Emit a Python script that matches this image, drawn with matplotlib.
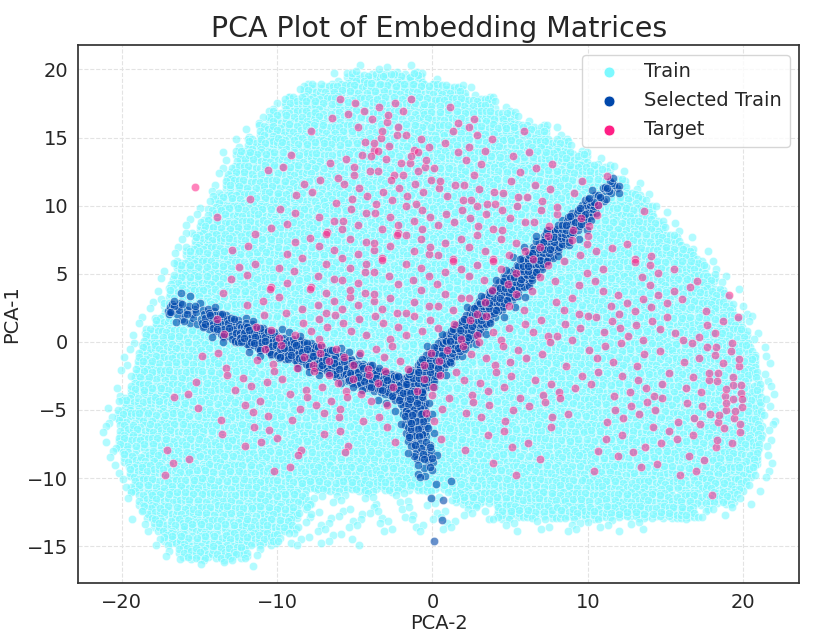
import numpy as np
import matplotlib
matplotlib.use("Agg")
import matplotlib.pyplot as plt
import seaborn as sns

# ---- data ----
# train cloud: one band per unit of PCA-1 (row centre, left edge, right edge)
train_y = [19.3, 18.5, 17.5, 16.5, 15.5, 14.5, 13.5, 12.5, 11.5, 10.5, 9.5, 8.5,
           7.5, 6.5, 5.5, 4.5, 3.5, 2.5, 1.5, 0.5, -0.5, -1.5, -2.5, -3.5, -4.5,
           -5.5, -6.5, -7.5, -8.5, -9.5, -10.5, -11.5, -11.5, -12.5, -12.5,
           -13.5, -14.5, -15.5]
train_x0 = [-5.5, -8.4, -9.6, -10.6, -11.3, -12.1, -12.8, -13.2, -13.5, -14.0, -14.6, -15.1,
            -15.5, -16.0, -16.6, -16.7, -17.1, -17.4, -18.0, -18.5, -18.9, -19.1, -19.3, -19.6, -20.0,
            -20.3, -20.3, -20.2, -20.0, -19.7, -19.4, -19.1, 1.5, -18.6, 4.0,
            -18.0, -17.3, -16.3]
train_x1 = [-0.5, 2.2, 4.0, 5.4, 7.4, 8.8, 10.0, 11.5, 12.5, 13.6, 14.3, 15.0,
            15.9, 16.9, 17.6, 18.3, 18.9, 19.4, 19.9, 20.3, 20.6, 20.9, 21.0, 21.1, 21.2,
            21.2, 21.2, 21.2, 21.0, 20.8, 20.2, -8.0, 19.6, -8.5, 17.0,
            -9.0, -10.0, -11.8]
# thin patches of train points outside the solid area
sparse_y = [19.9, -11.5, -12.5, -12.5, -13.5, -13.5, -14.5, -16.0]
sparse_x0 = [-5.0, -8.0, -8.5, 17.0, -9.0, 4.0, -10.0, -15.0]
sparse_x1 = [-1.0, 1.5, 4.0, 19.5, 2.0, 14.0, -4.5, -11.5]

# selected train: three arms (centre line, half width, points per unit^2)
left_arm_x = [-17.0, -15.0, -12.3, -9.8, -7.2, -5.3, -3.3, -1.4]
left_arm_y = [2.6, 1.9, 0.7, -0.3, -1.2, -2.1, -2.9, -3.6]
left_arm_w = [0.5, 0.75, 0.8, 0.85, 0.85, 0.85, 0.85, 0.85]
left_arm_d = [3, 9, 16, 17, 17, 17, 17, 17]
right_arm_x = [-1.4, 1.2, 3.5, 5.8, 8.2, 10.3, 11.9]
right_arm_y = [-3.4, -0.3, 2.4, 5.0, 7.9, 10.0, 12.0]
right_arm_w = [0.85, 0.8, 0.8, 0.8, 0.75, 0.55, 0.35]
right_arm_d = [17, 17, 17, 17, 16, 10, 3]
low_arm_x = [-1.4, -1.2, -0.9, -0.5, -0.2]
low_arm_y = [-3.6, -5.2, -7.2, -8.6, -9.8]
low_arm_w = [0.85, 0.8, 0.7, 0.6, 0.45]
low_arm_d = [18, 16, 11, 6, 3]
sel_extra_x = [-0.1, 0.7, 0.6, 0.1, 0.2, 1.2, -0.8, -16.9, -16.6, -16.2, -15.6, -15.3,
               11.6, 10.8, 11.2, 12.0]
sel_extra_y = [-11.5, -11.6, -13.1, -14.6, -10.4, -10.2, -9.9, 2.2, 3.0, 3.6, 3.4, 2.6,
               12.0, 10.6, 11.3, 10.9]

# target: number of points per 2x2 cell, columns start at x=-18, rows at y=16,14,...,-12
target_col0 = -18
target_row_y = [16, 14, 12, 10, 8, 6, 4, 2, 0, -2, -4, -6, -8, -10, -12]
target_rows = [
    "00000145221000000000",
    "00000127425100000000",
    "00012256723230100000",
    "01012345555442100000",
    "00113355545543210000",
    "00123445544433321000",
    "00233454444333233100",
    "00133555444323344310",
    "00233544434335344330",
    "01233544334331431470",
    "02333443334333343580",
    "11233433134332243490",
    "10232122012220224260",
    "21012010001110222300",
    "00000000000000000100",
]

labels = ["Train", "Selected Train", "Target"]
colors = ["#7DF9FF", "#0047AB", "#FF1F85"]


def spread(n, k):
    i = np.arange(k, k + n)
    u = (0.5 + i * 0.7548776662466927) % 1.0
    v = (0.5 + i * 0.5698402909980532) % 1.0
    return u, v


def fill_band(yc, x0, x1, dens, xs, ys, k):
    a = x0
    while a < x1 - 1e-9:
        b = min(a + 1.0, x1)
        n = int(round(dens * (b - a)))
        u, v = spread(n, k)
        xs.extend(a + u * (b - a))
        ys.extend(yc - 0.5 + v)
        k += n
        a = b
    return k


def fill_arm(ax_, ay_, aw_, ad_, xs, ys, k):
    for i in range(len(ax_) - 1):
        p0 = np.array([ax_[i], ay_[i]])
        p1 = np.array([ax_[i + 1], ay_[i + 1]])
        d = p1 - p0
        L = np.hypot(*d)
        nrm = np.array([-d[1], d[0]]) / L
        hw = 0.5 * (aw_[i] + aw_[i + 1])
        n = int(round(0.5 * (ad_[i] + ad_[i + 1]) * L * 2 * hw))
        u, v = spread(n, k)
        k += n
        w = aw_[i] + u * (aw_[i + 1] - aw_[i])
        pts = p0[None, :] + u[:, None] * d[None, :] + ((2 * v - 1) * w)[:, None] * nrm[None, :]
        xs.extend(pts[:, 0]); ys.extend(pts[:, 1])
        # loose points around the arm
        n2 = int(round(2.0 * L * 3 * hw))
        u, v = spread(n2, k)
        k += n2
        w = aw_[i] + u * (aw_[i + 1] - aw_[i])
        pts = p0[None, :] + u[:, None] * d[None, :] + ((2 * v - 1) * 1.6 * w)[:, None] * nrm[None, :]
        xs.extend(pts[:, 0]); ys.extend(pts[:, 1])
    return k


trx, tr_y = [], []
k = 0
for yc, a, b in zip(train_y, train_x0, train_x1):
    k = fill_band(yc, a, b, 14, trx, tr_y, k)
    k = fill_band(yc, a - 0.9, a, 2.2, trx, tr_y, k)
    k = fill_band(yc, b, b + 0.9, 2.2, trx, tr_y, k)
for yc, a, b in zip(sparse_y, sparse_x0, sparse_x1):
    k = fill_band(yc, a, b, 2.2, trx, tr_y, k)

sx, sy = [], []
k = 7
k = fill_arm(left_arm_x, left_arm_y, left_arm_w, left_arm_d, sx, sy, k)
k = fill_arm(right_arm_x, right_arm_y, right_arm_w, right_arm_d, sx, sy, k)
k = fill_arm(low_arm_x, low_arm_y, low_arm_w, low_arm_d, sx, sy, k)
sx += sel_extra_x
sy += sel_extra_y

gx, gy = [], []
k = 3
for yr, row in zip(target_row_y, target_rows):
    for j, ch in enumerate(row):
        c = int(ch)
        if c == 0:
            continue
        u, v = spread(c, k)
        k += c
        gx.extend(target_col0 + 2 * j + 2 * u)
        gy.extend(yr + 2 * v)

# ---- plot ----
sns.set_style("white")
fig, ax = plt.subplots(figsize=(8.3, 6.42), dpi=100)
fig.subplots_adjust(left=0.094, right=0.963, top=0.93, bottom=0.092)

ax.scatter(trx, tr_y, s=36, c=colors[0], alpha=0.6, edgecolors="white", linewidths=0.5, label=labels[0])
ax.scatter(sx, sy, s=36, c=colors[1], alpha=0.6, edgecolors="white", linewidths=0.5, label=labels[1])
ax.scatter(gx, gy, s=36, c=colors[2], alpha=0.55, edgecolors="white", linewidths=0.5, label=labels[2])

ax.set_xlim(-22.8, 23.6)
ax.set_ylim(-17.7, 21.8)
ax.set_xticks([-20, -10, 0, 10, 20])
ax.set_yticks([-15, -10, -5, 0, 5, 10, 15, 20])
ax.grid(True, color="#e3e3e3", linestyle="--", linewidth=0.8)
ax.set_axisbelow(True)
ax.tick_params(labelsize=14, length=0, pad=7, colors="#262626")
for sp in ax.spines.values():
    sp.set_color("#333333")
    sp.set_linewidth(1.25)

ax.set_title("PCA Plot of Embedding Matrices", fontsize=20.5, color="#262626")
ax.set_xlabel("PCA-2", fontsize=14, color="#262626", labelpad=2)
ax.set_ylabel("PCA-1", fontsize=14, color="#262626", labelpad=4)

leg = ax.legend(loc="upper right", fontsize=14, markerscale=1.3, frameon=True)
for h in leg.legend_handles:
    h.set_alpha(1)

plt.savefig("out.png", dpi=100)
